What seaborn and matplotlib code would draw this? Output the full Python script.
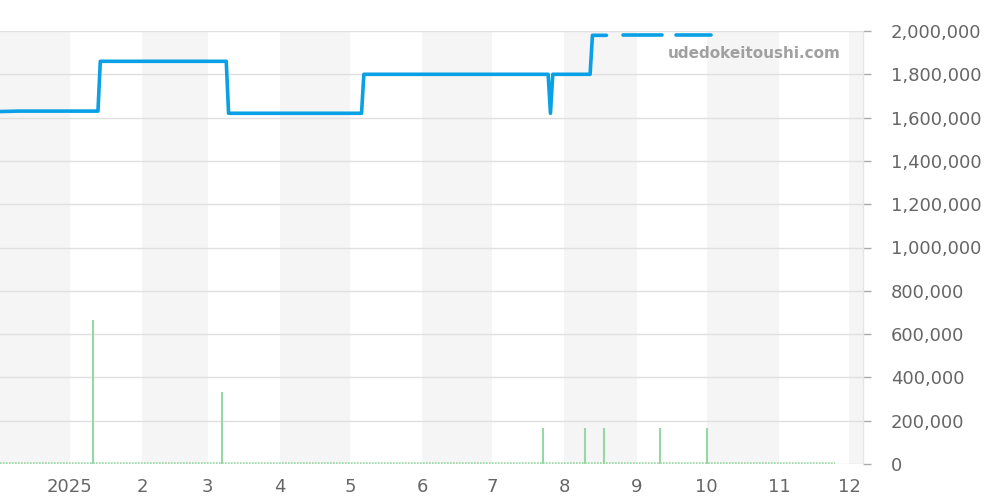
import matplotlib
matplotlib.use("Agg")
import matplotlib.pyplot as plt
import matplotlib.dates as mdates
from matplotlib.ticker import FuncFormatter
import seaborn as sns
import pandas as pd

# ---- data ----
price_dates = ["2024-12-02", "2024-12-10", "2025-01-13", "2025-01-14", "2025-03-09",
               "2025-03-10", "2025-05-06", "2025-05-07", "2025-07-25", "2025-07-26",
               "2025-07-27", "2025-08-12", "2025-08-13", "2025-08-19",
               "2025-08-26", "2025-09-12",
               "2025-09-18", "2025-10-03"]
price_values = [1628000, 1630000, 1630000, 1860000, 1860000,
                1620000, 1620000, 1800000, 1800000, 1620000,
                1800000, 1800000, 1980000, 1980000,
                1980000, 1980000,
                1980000, 1980000]
price_segment = [0, 0, 0, 0, 0, 0, 0, 0, 0, 0, 0, 0, 0, 0,
                 1, 1,
                 2, 2]

volume_dates = ["2025-01-11", "2025-03-07", "2025-07-23", "2025-08-10",
                "2025-08-18", "2025-09-11", "2025-10-01"]
volume_values = [665000, 333000, 166000, 166000, 166000, 166000, 166000]

baseline_dates = ["2024-12-02", "2025-11-25"]
baseline_values = [3000, 3000]

y_ticks = list(range(0, 2000001, 200000))

# ---- plot ----
sns.set_theme(style="white")
plt.rcParams['font.family'] = ['DejaVu Sans']

fig = plt.figure(figsize=(10, 5), dpi=100)
ax = fig.add_axes([0.0, 0.072, 0.863, 0.866])

xmin = pd.Timestamp("2024-12-02")
xmax = pd.Timestamp("2025-12-07")

# alternating month bands
months = pd.date_range("2024-12-01", "2026-01-01", freq="MS")
for i in range(len(months) - 1):
    if i % 2 == 0:
        ax.axvspan(months[i], months[i + 1], color="#f5f5f5", zorder=0, lw=0)

ax.yaxis.grid(True, color="#e0e0e0", lw=1)
ax.set_axisbelow(True)

vol = pd.DataFrame({"date": pd.to_datetime(volume_dates), "v": volume_values})
ax.vlines(vol["date"], 0, vol["v"], color="#96d7a4", lw=1.5, zorder=2)

base = pd.DataFrame({"date": pd.to_datetime(baseline_dates), "v": baseline_values})
ax.plot(base["date"], base["v"], color="#96d7a4", lw=1.2, ls=(0, (1, 0.8)), zorder=2)

df = pd.DataFrame({"date": pd.to_datetime(price_dates), "price": price_values,
                   "seg": price_segment})
sns.lineplot(data=df, x="date", y="price", units="seg", estimator=None,
             color="#0aa0e6", lw=2.6, ax=ax, zorder=3)

ax.set_xlim(xmin, xmax)
ax.set_ylim(0, 2000000)
ax.set_xlabel("")
ax.set_ylabel("")

ax.xaxis.set_major_locator(mdates.MonthLocator())
def fmt_month(x, pos):
    d = mdates.num2date(x)
    return str(d.year) if d.month == 1 else str(d.month)
ax.xaxis.set_major_formatter(FuncFormatter(fmt_month))

ax.yaxis.tick_right()
ax.set_yticks(y_ticks)
ax.yaxis.set_major_formatter(FuncFormatter(lambda v, p: f"{int(v):,}"))

ax.tick_params(axis="both", which="major", labelsize=13, labelcolor="#666666",
               color="#aaaaaa", length=6, width=1, direction="out")
ax.tick_params(axis="y", pad=14)
ax.tick_params(axis="x", pad=4)

for s in ["top", "left", "bottom"]:
    ax.spines[s].set_visible(False)
ax.spines["right"].set_color("#e6e6e6")
ax.spines["right"].set_linewidth(1)

ax.text(0.974, 0.966, "udedokeitoushi.com", transform=ax.transAxes,
        ha="right", va="top", fontsize=11, fontweight="bold", color="#a0a0a0",
        zorder=4)

fig.savefig("out.png", dpi=100)
